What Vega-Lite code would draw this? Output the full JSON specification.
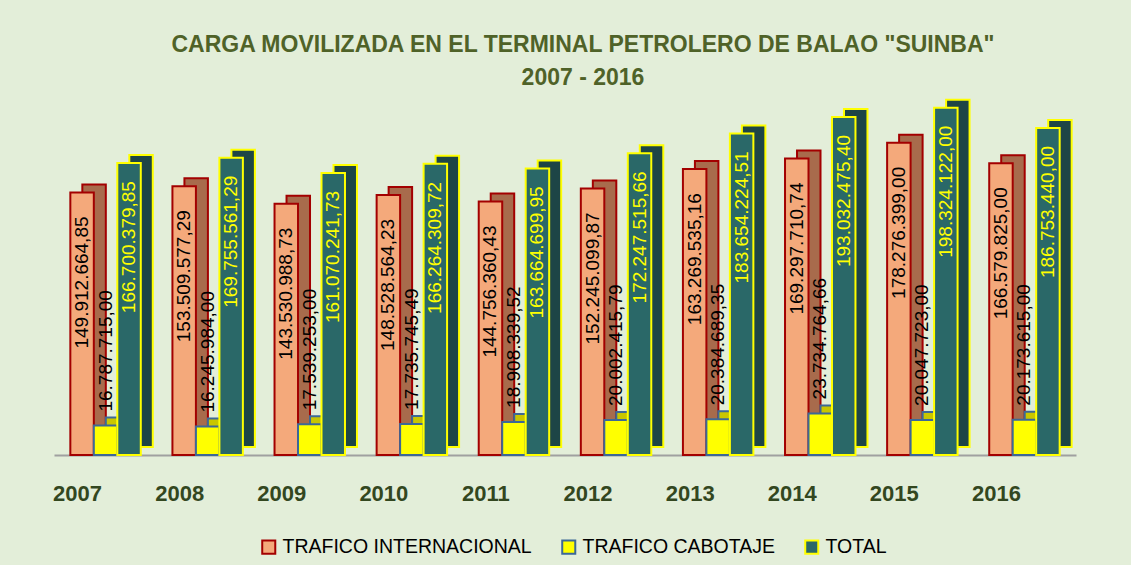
{
  "$schema": "https://vega.github.io/schema/vega-lite/v6.json",
  "width": 1022,
  "height": 359,
  "autosize": {"type": "pad"},
  "padding": {"left": 52, "right": 57, "top": 34, "bottom": 8},
  "background": "#E3EED9",
  "title": {
    "text": ["CARGA MOVILIZADA EN EL TERMINAL PETROLERO DE BALAO \"SUINBA\"", "2007 - 2016"],
    "font": "Liberation Sans",
    "fontSize": 23,
    "fontWeight": "bold",
    "color": "#4F6228",
    "lineHeight": 33,
    "anchor": "middle",
    "offset": 6,
    "dx": 18
  },
  "config": {
    "locale": {"number": {"decimal": ",", "thousands": ".", "grouping": [3], "currency": ["", ""]}},
    "view": {"stroke": null},
    "font": "Liberation Sans"
  },
  "data": {
    "values": [
      {"anio": "2007", "serie": "TRAFICO INTERNACIONAL", "valor": 149912664.85},
      {"anio": "2007", "serie": "TRAFICO CABOTAJE", "valor": 16787715.00},
      {"anio": "2007", "serie": "TOTAL", "valor": 166700379.85},
      {"anio": "2008", "serie": "TRAFICO INTERNACIONAL", "valor": 153509577.29},
      {"anio": "2008", "serie": "TRAFICO CABOTAJE", "valor": 16245984.00},
      {"anio": "2008", "serie": "TOTAL", "valor": 169755561.29},
      {"anio": "2009", "serie": "TRAFICO INTERNACIONAL", "valor": 143530988.73},
      {"anio": "2009", "serie": "TRAFICO CABOTAJE", "valor": 17539253.00},
      {"anio": "2009", "serie": "TOTAL", "valor": 161070241.73},
      {"anio": "2010", "serie": "TRAFICO INTERNACIONAL", "valor": 148528564.23},
      {"anio": "2010", "serie": "TRAFICO CABOTAJE", "valor": 17735745.49},
      {"anio": "2010", "serie": "TOTAL", "valor": 166264309.72},
      {"anio": "2011", "serie": "TRAFICO INTERNACIONAL", "valor": 144756360.43},
      {"anio": "2011", "serie": "TRAFICO CABOTAJE", "valor": 18908339.52},
      {"anio": "2011", "serie": "TOTAL", "valor": 163664699.95},
      {"anio": "2012", "serie": "TRAFICO INTERNACIONAL", "valor": 152245099.87},
      {"anio": "2012", "serie": "TRAFICO CABOTAJE", "valor": 20002415.79},
      {"anio": "2012", "serie": "TOTAL", "valor": 172247515.66},
      {"anio": "2013", "serie": "TRAFICO INTERNACIONAL", "valor": 163269535.16},
      {"anio": "2013", "serie": "TRAFICO CABOTAJE", "valor": 20384689.35},
      {"anio": "2013", "serie": "TOTAL", "valor": 183654224.51},
      {"anio": "2014", "serie": "TRAFICO INTERNACIONAL", "valor": 169297710.74},
      {"anio": "2014", "serie": "TRAFICO CABOTAJE", "valor": 23734764.66},
      {"anio": "2014", "serie": "TOTAL", "valor": 193032475.40},
      {"anio": "2015", "serie": "TRAFICO INTERNACIONAL", "valor": 178276399.00},
      {"anio": "2015", "serie": "TRAFICO CABOTAJE", "valor": 20047723.00},
      {"anio": "2015", "serie": "TOTAL", "valor": 198324122.00},
      {"anio": "2016", "serie": "TRAFICO INTERNACIONAL", "valor": 166579825.00},
      {"anio": "2016", "serie": "TRAFICO CABOTAJE", "valor": 20173615.00},
      {"anio": "2016", "serie": "TOTAL", "valor": 186753440.00}
    ]
  },
  "encoding": {
    "x": {
      "field": "anio",
      "type": "nominal",
      "scale": {"paddingInner": 0.31, "paddingOuter": 0.16},
      "axis": {
        "title": null,
        "labelAngle": 0,
        "labelFont": "Liberation Sans",
        "labelFontSize": 22,
        "labelFontWeight": "bold",
        "labelColor": "#33471F",
        "labelPadding": 28,
        "labelOffset": -28,
        "ticks": false,
        "domainColor": "#A0A0A0",
        "domainWidth": 2,
        "grid": false
      }
    },
    "xOffset": {
      "field": "serie",
      "type": "nominal",
      "sort": ["TRAFICO INTERNACIONAL", "TRAFICO CABOTAJE", "TOTAL"],
      "scale": {"domain": ["TRAFICO INTERNACIONAL", "TRAFICO CABOTAJE", "TOTAL"]}
    },
    "y": {
      "field": "valor",
      "type": "quantitative",
      "scale": {"domain": [0, 205000000], "nice": false},
      "axis": null
    }
  },
  "resolve": {"scale": {"xOffset": "independent", "fill": "independent", "stroke": "independent"}},
  "layer": [
    {
      "mark": {"type": "bar", "strokeWidth": 2, "yOffset": -8, "y2Offset": -8},
      "encoding": {
        "xOffset": {
          "field": "serie",
          "type": "nominal",
          "sort": ["TRAFICO INTERNACIONAL", "TRAFICO CABOTAJE", "TOTAL"],
          "scale": {"domain": ["TRAFICO INTERNACIONAL", "TRAFICO CABOTAJE", "TOTAL"], "range": [12, 82.45]}
        },
        "fill": {
          "field": "serie",
          "type": "nominal",
          "scale": {
            "domain": ["TRAFICO INTERNACIONAL", "TRAFICO CABOTAJE", "TOTAL"],
            "range": ["#A86B4C", "#C9C600", "#1D4546"]
          },
          "legend": null
        },
        "stroke": {
          "field": "serie",
          "type": "nominal",
          "scale": {
            "domain": ["TRAFICO INTERNACIONAL", "TRAFICO CABOTAJE", "TOTAL"],
            "range": ["#A30000", "#3D6896", "#FFFF00"]
          },
          "legend": null
        }
      }
    },
    {
      "mark": {"type": "bar", "strokeWidth": 2},
      "encoding": {
        "fill": {
          "field": "serie",
          "type": "nominal",
          "sort": ["TRAFICO INTERNACIONAL", "TRAFICO CABOTAJE", "TOTAL"],
          "scale": {
            "domain": ["TRAFICO INTERNACIONAL", "TRAFICO CABOTAJE", "TOTAL"],
            "range": ["#F4A97B", "#FFFF00", "#2A6868"]
          },
          "legend": {
            "title": null,
            "orient": "none",
            "legendX": 205,
            "legendY": 441,
            "direction": "horizontal",
            "symbolType": "square",
            "symbolSize": 170,
            "symbolStrokeWidth": 2,
            "labelFont": "Liberation Sans",
            "labelFontSize": 19.5,
            "labelColor": "#000000",
            "labelLimit": 0,
            "columnPadding": 26,
            "symbolOpacity": 1
          }
        },
        "stroke": {
          "field": "serie",
          "type": "nominal",
          "sort": ["TRAFICO INTERNACIONAL", "TRAFICO CABOTAJE", "TOTAL"],
          "scale": {
            "domain": ["TRAFICO INTERNACIONAL", "TRAFICO CABOTAJE", "TOTAL"],
            "range": ["#A30000", "#3D6896", "#FFFF00"]
          },
          "legend": {
            "title": null,
            "orient": "none",
            "legendX": 205,
            "legendY": 441,
            "direction": "horizontal",
            "symbolType": "square",
            "symbolSize": 170,
            "symbolStrokeWidth": 2,
            "labelFont": "Liberation Sans",
            "labelFontSize": 19.5,
            "labelColor": "#000000",
            "labelLimit": 0,
            "columnPadding": 26,
            "symbolOpacity": 1
          }
        }
      }
    },
    {
      "transform": [{"filter": "datum.serie === 'TRAFICO INTERNACIONAL'"}],
      "mark": {"type": "text", "angle": 270, "align": "right", "baseline": "middle", "dx": -24, "fontSize": 19, "color": "#000000", "font": "Liberation Sans"},
      "encoding": {"text": {"field": "valor", "type": "quantitative", "format": ",.2f"}}
    },
    {
      "transform": [{"filter": "datum.serie === 'TRAFICO CABOTAJE'"}],
      "mark": {"type": "text", "angle": 270, "align": "left", "baseline": "middle", "dx": 14, "fontSize": 19, "color": "#000000", "font": "Liberation Sans"},
      "encoding": {"text": {"field": "valor", "type": "quantitative", "format": ",.2f"}}
    },
    {
      "transform": [{"filter": "datum.serie === 'TOTAL'"}],
      "mark": {"type": "text", "angle": 270, "align": "right", "baseline": "middle", "dx": -18, "fontSize": 19, "color": "#FFFF00", "font": "Liberation Sans"},
      "encoding": {"text": {"field": "valor", "type": "quantitative", "format": ",.2f"}}
    }
  ]
}
